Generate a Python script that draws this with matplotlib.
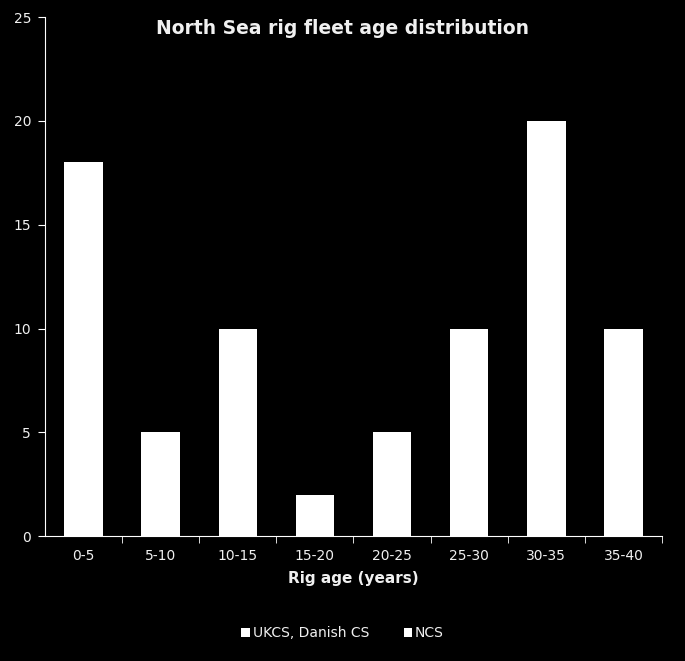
import matplotlib
matplotlib.use("Agg")
import matplotlib.pyplot as plt
import numpy as np

# === DATA ===
age_bins = ["0-5", "5-10", "10-15", "15-20", "20-25", "25-30", "30-35", "35-40"]
ukcs_danish = [18, 5, 10, 2, 5, 10, 20, 10]
ncs = [0, 0, 0, 0, 0, 0, 0, 0]

x = np.arange(len(age_bins))
fg = "white"
txt = "#f0f0f0"

fig = plt.figure(figsize=(6.85, 6.61), dpi=100, facecolor="black")
ax = fig.add_axes([0.0657, 0.189, 0.9007, 0.785], facecolor="black")

ax.bar(x, ukcs_danish, width=0.5, color="white", label="UKCS, Danish CS")
ax.bar(x, ncs, width=0.5, bottom=ukcs_danish, color="white", label="NCS")

ax.set_xlim(-0.5, len(age_bins) - 0.5)
ax.set_ylim(0, 25)
ax.set_yticks([0, 5, 10, 15, 20, 25])

# labels centred, tick marks at bin boundaries
ax.set_xticks(x)
ax.set_xticklabels(age_bins)
ax.set_xticks(np.arange(0.5, len(age_bins), 1), minor=True)
ax.tick_params(axis="x", which="major", length=0, pad=9)
ax.tick_params(axis="x", which="minor", length=5, color=fg, direction="out")
ax.tick_params(axis="y", length=5, color=fg, direction="out", pad=5)
ax.tick_params(labelcolor=txt, labelsize=10)

for s in ["top", "right"]:
    ax.spines[s].set_visible(False)
ax.spines["left"].set_color(fg)
ax.spines["bottom"].set_color(fg)

ax.set_xlabel("Rig age (years)", color=txt, fontsize=11, fontweight="bold", labelpad=6)
fig.text(0.5, 0.957, "North Sea rig fleet age distribution", color=txt,
         fontsize=13.5, fontweight="bold", ha="center", va="center")

leg = fig.legend(loc="center", bbox_to_anchor=(0.5, 0.042), ncol=2, frameon=False,
                 fontsize=10, handlelength=0.6, handleheight=0.6, handletextpad=0.2,
                 columnspacing=2.5, labelcolor=txt)

fig.savefig("out.png", dpi=100, facecolor="black")
